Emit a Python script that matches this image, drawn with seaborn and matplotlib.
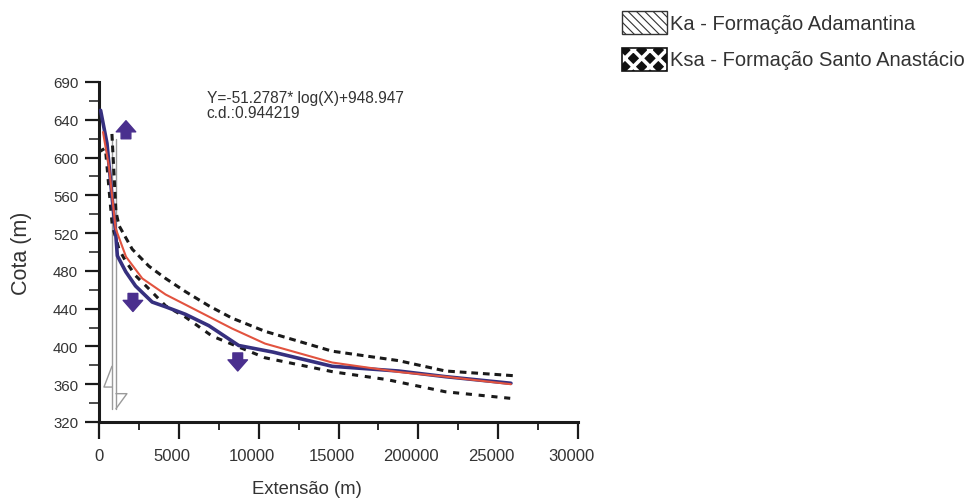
import numpy as np
import pandas as pd
import matplotlib
matplotlib.use("Agg")
import matplotlib.pyplot as plt
import matplotlib.transforms as mtransforms
from matplotlib.patches import Rectangle
from matplotlib.ticker import MultipleLocator
import seaborn as sns

# ---- data ----
blue_x = [100, 500, 830, 1040, 1150, 1680, 2290, 3330, 4170, 5420, 6880, 8750, 10900, 14600, 18750, 21700, 25800]
blue_y = [650, 615, 556, 521, 496, 479, 464, 447, 442, 434, 422, 401, 394, 379, 374, 368, 361]

red_x = [250, 625, 1040, 1690, 2710, 4170, 6250, 8330, 10400, 14600, 18750, 21700, 25800]
red_y = [627, 590, 525, 495, 472, 455, 437, 419, 403, 383, 373, 368, 360]

upper_x = [810, 1060, 1250, 2080, 3125, 4170, 5420, 6880, 8330, 10400, 14600, 18750, 21700, 26000]
upper_y = [625, 543, 528, 503, 485, 472, 458, 443, 430, 416, 395, 385, 374, 369]

lower_x = [0, 400, 830, 1250, 1680, 2290, 3125, 4170, 5420, 7080, 10400, 14700, 18000, 21700, 25800]
lower_y = [606, 610, 528, 503, 490, 475, 461, 443, 431, 411, 388, 373, 365, 352, 345]

x_ticks = [0, 5000, 10000, 15000, 20000, 25000, 30000]
x_ticklabels = ["0", "5000", "10000", "15000", "200000", "25000", "30000"]
y_ticks = [320, 360, 400, 440, 480, 520, 560, 600, 640, 680]
y_ticklabels = ["320", "360", "400", "440", "480", "520", "560", "600", "640", "690"]

equation = "Y=-51.2787* log(X)+948.947\nc.d.:0.944219"
legend_labels = ["Ka - Formação Adamantina", "Ksa - Formação Santo Anastácio"]

# decorations (fault symbol and movement arrows)
fault_x = [810, 1060]
fault_y = [620, 334]
up_arrows = [(1690, 639)]
down_arrows = [(2125, 437), (8690, 374)]

sns.set_style("ticks")
plt.rcParams["font.family"] = ["Liberation Sans", "DejaVu Sans"]
plt.rcParams["hatch.linewidth"] = 0.8

fig = plt.figure(figsize=(9.71, 5.02), dpi=100)
ax = fig.add_axes([99 / 971, 1 - 423 / 502, 479 / 971, 340 / 502])

txtc = "#333333"
df = pd.concat([
    pd.DataFrame({"x": blue_x, "y": blue_y, "s": "perfil"}),
    pd.DataFrame({"x": red_x, "y": red_y, "s": "ajuste"}),
    pd.DataFrame({"x": upper_x, "y": upper_y, "s": "sup"}),
    pd.DataFrame({"x": lower_x, "y": lower_y, "s": "inf"}),
])

# fault lines (grey, behind)
for fx in fault_x:
    ax.plot([fx, fx], fault_y, color="#9a9a9a", lw=1.0, zorder=1)
# half arrows of fault symbol
ax.plot([810, 310, 810], [379, 357, 357], color="#9a9a9a", lw=1.0, zorder=1)
ax.plot([1060, 1750, 1060], [350, 350, 334], color="#9a9a9a", lw=1.0, zorder=1)

sns.lineplot(data=df[df.s == "sup"], x="x", y="y", ax=ax, color="#1a1a1a",
             lw=2.2, linestyle=(0, (2.2, 1.6)), sort=False, legend=False, zorder=3)
sns.lineplot(data=df[df.s == "inf"], x="x", y="y", ax=ax, color="#1a1a1a",
             lw=2.2, linestyle=(0, (2.0, 2.2)), sort=False, legend=False, zorder=3)
sns.lineplot(data=df[df.s == "perfil"], x="x", y="y", ax=ax, color="#36307f",
             lw=2.6, sort=False, legend=False, zorder=4)
sns.lineplot(data=df[df.s == "ajuste"], x="x", y="y", ax=ax, color="#e2533f",
             lw=1.5, sort=False, legend=False, zorder=5)

arrow_c = "#4a2f8e"
style = "simple,head_width=14,head_length=8,tail_width=7"
for (ax_, ay_) in up_arrows:
    ax.annotate("", xy=(ax_, ay_), xytext=(0, -13), textcoords="offset points",
                arrowprops=dict(arrowstyle=style, color=arrow_c, mutation_scale=1, shrinkA=0, shrinkB=0))
for (ax_, ay_) in down_arrows:
    ax.annotate("", xy=(ax_, ay_), xytext=(0, 13), textcoords="offset points",
                arrowprops=dict(arrowstyle=style, color=arrow_c, mutation_scale=1, shrinkA=0, shrinkB=0))

ax.text(6750, 672, equation, fontsize=11.2, color=txtc, va="top", ha="left", linespacing=1.0)

ax.set_xlim(0, 30000)
ax.set_ylim(320, 680)
ax.set_xticks(x_ticks)
ax.set_xticklabels(x_ticklabels)
ax.set_yticks(y_ticks)
ax.set_yticklabels(y_ticklabels)
ax.xaxis.set_minor_locator(MultipleLocator(2500))
ax.yaxis.set_minor_locator(MultipleLocator(20))
ax.tick_params(axis="both", which="major", direction="out", width=1.6,
               labelcolor=txtc, color="#1a1a1a")
ax.tick_params(axis="x", which="major", length=12, pad=7, labelsize=12)
ax.tick_params(axis="x", which="minor", length=6, width=1.3, color="#1a1a1a")
ax.tick_params(axis="y", which="major", length=10, pad=5, labelsize=10.8)
ax.tick_params(axis="y", which="minor", length=7, width=1.1, color="#1a1a1a")
sns.despine(ax=ax)
for sp in ("left", "bottom"):
    ax.spines[sp].set_linewidth(2.2)
    ax.spines[sp].set_color("#1a1a1a")

off = mtransforms.ScaledTranslation(-7 / 100, 0, fig.dpi_scale_trans)
for i, lab in enumerate(ax.get_xticklabels()):
    if i > 0:
        lab.set_transform(lab.get_transform() + off)

ax.set_xlabel("Extensão (m)", fontsize=13.3, color=txtc)
ax.set_ylabel("Cota (m)", fontsize=15.5, color=txtc)
ax.xaxis.set_label_coords(0.434, -0.172)
ax.yaxis.set_label_coords(-0.14, 0.5)

# legend boxes at top right
w, h = 45 / 971, 23 / 502
x0 = 622 / 971
r1 = Rectangle((x0, 1 - 35 / 502), w, h, transform=fig.transFigure, facecolor="white",
               edgecolor="#333333", hatch="\\\\\\\\", lw=1.0)
fig.add_artist(r1)
r2 = Rectangle((x0, 1 - 72 / 502), w, h, transform=fig.transFigure, facecolor="#111111",
               edgecolor="white", hatch="xx", lw=0)
if hasattr(r2, "set_hatch_linewidth"):
    r2.set_hatch_linewidth(2.6)
fig.add_artist(r2)
r2b = Rectangle((x0, 1 - 72 / 502), w, h, transform=fig.transFigure, facecolor="none",
                edgecolor="#111111", lw=1.2)
fig.add_artist(r2b)
fig.text(670 / 971, 1 - 24 / 502, legend_labels[0], fontsize=14.5, color=txtc, va="center", ha="left")
fig.text(670 / 971, 1 - 61 / 502, legend_labels[1], fontsize=14.5, color=txtc, va="center", ha="left")

fig.savefig("out.png", dpi=100)
